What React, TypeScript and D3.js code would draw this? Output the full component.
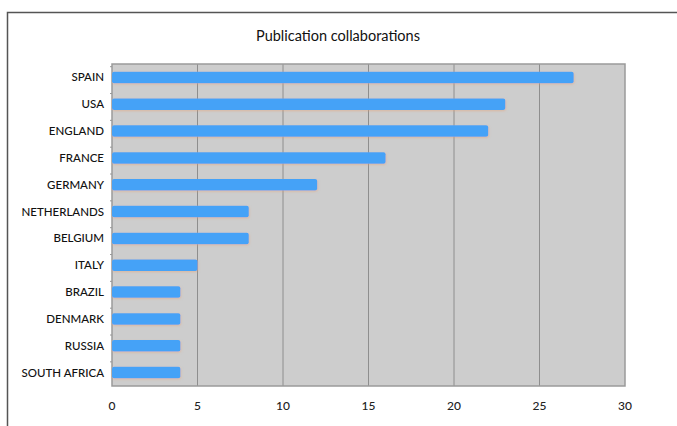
import React from "react";
import * as d3 from "d3";

const countries = ["SPAIN","USA","ENGLAND","FRANCE","GERMANY","NETHERLANDS","BELGIUM","ITALY","BRAZIL","DENMARK","RUSSIA","SOUTH AFRICA"];
const counts = [27,23,22,16,12,8,8,5,4,4,4,4];
const xTicks = [0,5,10,15,20,25,30];
const title = "Publication collaborations";

const W = 677, H = 426;
const M = { left: 112, right: 625, top: 64, bottom: 386 };
const FONT = "Lato, 'Open Sans', sans-serif";

export default function App() {
  const x = d3.scaleLinear().domain([0, 30]).range([M.left, M.right]);
  const y = d3.scaleBand().domain(countries).range([M.top, M.bottom]).paddingInner(0.6).paddingOuter(0.3);
  const bh = 11.5;
  return (
    <svg width={W} height={H} style={{ position: "absolute", left: 0, top: 0, background: "#fff" }}>
      <defs>
        <filter id="sh" x="-5%" y="-50%" width="110%" height="200%">
          <feDropShadow dx="0.5" dy="1" stdDeviation="0.8" floodColor="#e8a070" floodOpacity="0.5" />
        </filter>
      </defs>
      <path d={`M7.5,${H} V12.5 H${W}`} fill="none" stroke="#555" strokeWidth={1.5} />
      <text x={338} y={41} textAnchor="middle" fontFamily={FONT} fontSize={14.5} fill="#111">{title}</text>
      <rect x={M.left} y={M.top} width={M.right - M.left} height={M.bottom - M.top} fill="#cdcdcd" />
      {xTicks.slice(1, -1).map(t => (
        <line key={t} x1={x(t)} x2={x(t)} y1={M.top} y2={M.bottom} stroke="#8e8e8e" strokeWidth={1} />
      ))}
      <rect x={M.left} y={M.top} width={M.right - M.left} height={M.bottom - M.top} fill="none" stroke="#9a9a9a" strokeWidth={1.5} />
      {countries.map((c, i) => {
        const cy = (y(c) as number) + y.bandwidth() / 2;
        return (
          <g key={c}>
            <rect x={x(0)} y={cy - bh / 2} width={x(counts[i]) - x(0)} height={bh} rx={2} fill="#45a2f7" filter="url(#sh)" />
            <line x1={M.left - 2} x2={M.left} y1={(y(c) as number) - y.step() * 0.2 } y2={(y(c) as number) - y.step() * 0.2} stroke="#999" />
            <text x={M.left - 8} y={cy} dy="0.35em" textAnchor="end" fontFamily={FONT} fontSize={11.5} fontWeight={500} fill="#111">{c}</text>
          </g>
        );
      })}
      {xTicks.map(t => (
        <text key={t} x={x(t)} y={410} textAnchor="middle" fontFamily={FONT} fontSize={12} fontWeight={500} fill="#222">{t}</text>
      ))}
    </svg>
  );
}
